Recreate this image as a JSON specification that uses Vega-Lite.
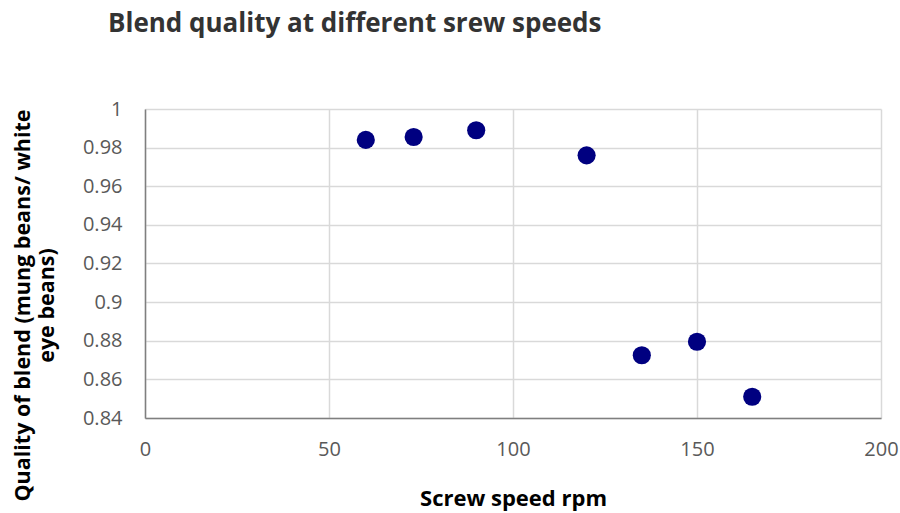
{
  "$schema": "https://vega.github.io/schema/vega-lite/v6.json",
  "width": 736,
  "height": 309,
  "autosize": {"type": "none"},
  "padding": {"left": 145, "top": 109, "right": 19, "bottom": 95},
  "background": "white",
  "config": {"view": {"stroke": null}, "font": "Open Sans"},
  "title": {
    "text": "Blend quality at different srew speeds",
    "anchor": "start",
    "frame": "group",
    "dx": -37,
    "offset": 62,
    "fontSize": 26,
    "fontWeight": "bold",
    "color": "#333333",
    "font": "Open Sans"
  },
  "data": {
    "values": [
      {"speed": 60, "quality": 0.984},
      {"speed": 73, "quality": 0.9855},
      {"speed": 90, "quality": 0.989},
      {"speed": 120, "quality": 0.976},
      {"speed": 135, "quality": 0.8725},
      {"speed": 150, "quality": 0.8795},
      {"speed": 165, "quality": 0.851}
    ]
  },
  "mark": {"type": "point", "filled": true, "opacity": 1, "size": 330, "color": "#000080"},
  "encoding": {
    "x": {
      "field": "speed",
      "type": "quantitative",
      "scale": {"domain": [0, 200], "nice": false, "zero": false},
      "axis": {
        "values": [0, 50, 100, 150, 200],
        "title": "Screw speed rpm",
        "titleFontSize": 22,
        "titleFontWeight": "bold",
        "titleColor": "#000000",
        "titleY": 80,
        "titleBaseline": "middle",
        "labelFontSize": 20,
        "labelColor": "#595959",
        "labelPadding": 31,
        "labelBaseline": "middle",
        "labelFlush": false,
        "labelOverlap": false,
        "ticks": false,
        "domainColor": "#7f7f7f",
        "domainWidth": 1.5,
        "gridColor": "#d9d9d9",
        "gridWidth": 1.5
      }
    },
    "y": {
      "field": "quality",
      "type": "quantitative",
      "scale": {"domain": [0.84, 1], "nice": false, "zero": false},
      "axis": {
        "values": [0.84, 0.86, 0.88, 0.9, 0.92, 0.94, 0.96, 0.98, 1],
        "format": "~g",
        "title": ["Quality of blend (mung beans/ white", "eye beans)"],
        "titleFontSize": 21.5,
        "titleFontWeight": "bold",
        "titleColor": "#000000",
        "titleX": -111,
        "titleY": 196,
        "titleLineHeight": 24,
        "labelFontSize": 20,
        "labelColor": "#595959",
        "labelPadding": 23,
        "labelFlush": false,
        "labelOverlap": false,
        "labelAlign": "right",
        "labelBaseline": "middle",
        "ticks": false,
        "domainColor": "#7f7f7f",
        "domainWidth": 1.5,
        "gridColor": "#d9d9d9",
        "gridWidth": 1.5
      }
    }
  }
}
